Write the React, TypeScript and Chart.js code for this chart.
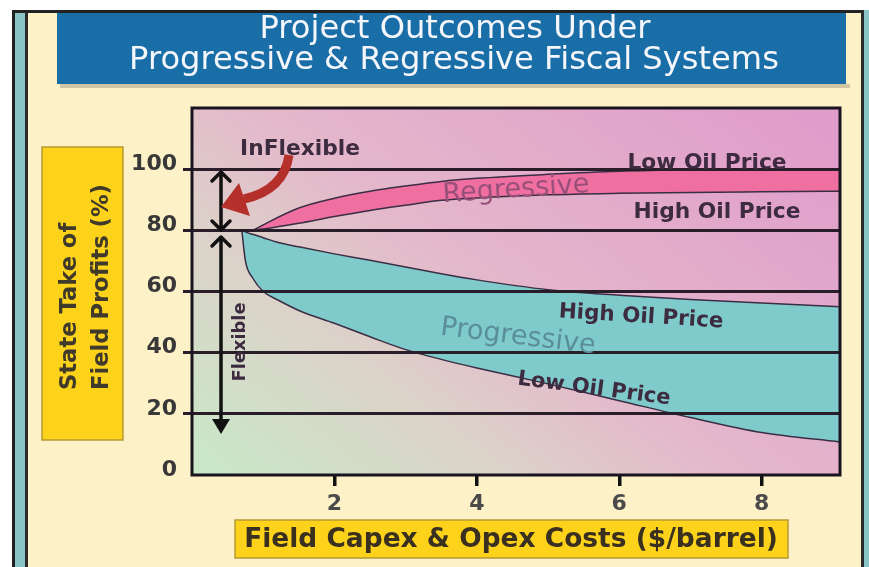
import React, { useEffect, useRef } from 'react';
import { Chart, registerables } from 'chart.js';
Chart.register(...registerables);

const FONT = '"DejaVu Sans", sans-serif';

const titleLines = ['Project Outcomes Under', 'Progressive & Regressive Fiscal Systems'];
const yTitleLines = ['State Take of', 'Field Profits (%)'];
const xTitle = 'Field Capex & Opex Costs ($/barrel)';
const xTickValues = [2, 4, 6, 8];
const yTickValues = [0, 20, 40, 60, 80, 100];

// Progressive fiscal system band
const progX = [0.7, 0.75, 0.85, 1.0, 1.2, 1.5, 2.0, 2.5, 3.0, 3.5, 4.0, 5.0, 6.0, 7.0, 8.0, 9.1];
const progHighOil = [80, 79.5, 78.7, 77.6, 76.1, 74.6, 72.3, 70.2, 68.0, 65.8, 63.8, 60.6, 58.8, 57.4, 56.2, 55.0];
const progLowOil = [80, 70, 64.5, 60.0, 57.3, 53.8, 49.6, 45.2, 41.0, 37.8, 35.0, 29.8, 24.3, 18.8, 13.9, 10.8];

// Regressive fiscal system band
const regX = [0.86, 1.0, 1.5, 2.0, 2.5, 3.0, 3.5, 4.0, 5.0, 6.0, 7.0, 8.0, 9.1];
const regLowOil = [80, 81.8, 87.3, 90.5, 92.8, 94.5, 96.0, 97.0, 98.3, 99.3, 99.8, 100, 100];
const regHighOil = [80, 80.4, 82.3, 84.5, 86.5, 88.2, 89.8, 90.6, 91.6, 92.1, 92.4, 92.6, 92.8];

const EDGE = '#3b2e44';
const CREAM = '#fdf1c8';
const BANNER = '#1a6ea8';
const STRIPE = '#8ac4c6';

function fitText(ctx: CanvasRenderingContext2D, text: string, weight: string, targetW: number, maxSize = 60) {
  ctx.font = `${weight} 100px ${FONT}`;
  const w = ctx.measureText(text).width;
  const size = Math.min(maxSize, (100 * targetW) / w);
  ctx.font = `${weight} ${size}px ${FONT}`;
  return size;
}

function drawLabel(ctx: CanvasRenderingContext2D, text: string, cx: number, cy: number, w: number, weight: string, color: string, angleDeg = 0, align: CanvasTextAlign = 'center') {
  ctx.save();
  ctx.translate(cx, cy);
  ctx.rotate((angleDeg * Math.PI) / 180);
  fitText(ctx, text, weight, w);
  ctx.fillStyle = color;
  ctx.textAlign = align;
  ctx.textBaseline = 'middle';
  ctx.fillText(text, 0, 0);
  ctx.restore();
}

export default function App() {
  const ref = useRef<HTMLCanvasElement>(null);

  useEffect(() => {
    document.body.style.margin = '0';
    const canvas = ref.current!;

    const decor = {
      id: 'decor',
      beforeDraw(chart: any) {
        const { ctx, chartArea: a } = chart;
        ctx.save();
        ctx.fillStyle = '#ffffff';
        ctx.fillRect(0, 0, 869, 567);
        ctx.fillStyle = CREAM;
        ctx.fillRect(12, 10, 852, 557);
        ctx.fillStyle = '#222';
        ctx.fillRect(12, 10, 852, 3);
        ctx.fillRect(12, 10, 3, 557);
        ctx.fillStyle = STRIPE;
        ctx.fillRect(15, 13, 10, 554);
        ctx.fillStyle = '#2a2a2a';
        ctx.fillRect(25, 13, 3, 554);
        ctx.fillRect(861, 10, 3, 557);
        ctx.fillStyle = STRIPE;
        ctx.fillRect(864, 10, 5, 557);

        // banner
        ctx.fillStyle = 'rgba(110,100,80,0.3)';
        ctx.fillRect(60, 84, 790, 4);
        ctx.fillStyle = BANNER;
        ctx.fillRect(57, 13, 789, 71);
        ctx.fillStyle = '#f4f6fa';
        ctx.textAlign = 'center';
        ctx.textBaseline = 'alphabetic';
        const s = fitText(ctx, titleLines[1], 'normal', 650);
        ctx.font = `normal ${s}px ${FONT}`;
        ctx.fillText(titleLines[0], 455, 38);
        ctx.fillText(titleLines[1], 454, 69);

        // y title box
        ctx.fillStyle = '#fdd21a';
        ctx.fillRect(42, 147, 81, 293);
        ctx.strokeStyle = '#b59a35';
        ctx.lineWidth = 1.5;
        ctx.strokeRect(42, 147, 81, 293);
        ctx.save();
        const ys = fitText(ctx, yTitleLines[1], 'bold', 206);
        ctx.fillStyle = '#3f3a2a';
        ctx.textAlign = 'left';
        ctx.textBaseline = 'middle';
        ctx.translate(0, 0);
        ctx.save();
        ctx.translate(70, 390);
        ctx.rotate(-Math.PI / 2);
        ctx.font = `bold ${ys}px ${FONT}`;
        ctx.fillText(yTitleLines[0], 0, 0);
        ctx.restore();
        ctx.save();
        ctx.translate(102, 390);
        ctx.rotate(-Math.PI / 2);
        ctx.font = `bold ${ys}px ${FONT}`;
        ctx.fillText(yTitleLines[1], 0, 0);
        ctx.restore();
        ctx.restore();

        // x title box
        ctx.fillStyle = '#fdd21a';
        ctx.fillRect(235, 520, 553, 38);
        ctx.strokeStyle = '#b59a35';
        ctx.strokeRect(235, 520, 553, 38);
        drawLabel(ctx, xTitle, 511, 540, 534, 'bold', '#3a3020');

        // plot background gradient
        const g = ctx.createLinearGradient(a.left, a.bottom, a.left + 400, a.bottom - 520);
        g.addColorStop(0, '#c8e9c8');
        g.addColorStop(0.3, '#dcd2c9');
        g.addColorStop(0.5, '#e4b8cb');
        g.addColorStop(1, '#e09dcb');
        ctx.fillStyle = g;
        ctx.fillRect(a.left, a.top, a.right - a.left, a.bottom - a.top);
        ctx.restore();
      },
      afterDraw(chart: any) {
        const { ctx, chartArea: a } = chart;
        ctx.save();
        ctx.strokeStyle = '#1a1420';
        ctx.lineWidth = 3;
        ctx.strokeRect(a.left, a.top, a.right - a.left, a.bottom - a.top);

        // black double arrows
        ctx.strokeStyle = '#111';
        ctx.fillStyle = '#111';
        ctx.lineWidth = 3.5;
        ctx.lineCap = 'round';
        ctx.lineJoin = 'round';
        const ax = 221;
        ctx.beginPath();
        ctx.moveTo(ax, 172); ctx.lineTo(ax, 230);
        ctx.moveTo(ax - 9, 181); ctx.lineTo(ax, 172); ctx.lineTo(ax + 9, 181);
        ctx.moveTo(ax - 9, 221); ctx.lineTo(ax, 230); ctx.lineTo(ax + 9, 221);
        ctx.moveTo(ax, 237); ctx.lineTo(ax, 425);
        ctx.moveTo(ax - 9, 246); ctx.lineTo(ax, 237); ctx.lineTo(ax + 9, 246);
        ctx.stroke();
        ctx.beginPath();
        ctx.moveTo(ax, 434); ctx.lineTo(ax - 9, 419); ctx.lineTo(ax + 9, 419); ctx.closePath();
        ctx.fill();

        // red curved arrow
        ctx.strokeStyle = '#b5302a';
        ctx.fillStyle = '#b5302a';
        ctx.lineWidth = 9;
        ctx.lineCap = 'butt';
        ctx.beginPath();
        ctx.moveTo(289, 155);
        ctx.quadraticCurveTo(284, 190, 244, 199);
        ctx.stroke();
        ctx.beginPath();
        ctx.moveTo(221, 207);
        ctx.lineTo(239, 183);
        ctx.lineTo(250, 216);
        ctx.closePath();
        ctx.fill();

        // annotations
        const dark = '#3d2b3f';
        drawLabel(ctx, 'InFlexible', 300, 149, 120, 'bold', dark);
        drawLabel(ctx, 'Flexible', 240, 342, 79, 'bold', dark, -90);
        drawLabel(ctx, 'Regressive', 516, 190, 147, 'normal', '#98507a', -4);
        drawLabel(ctx, 'Low Oil Price', 707, 163, 159, 'bold', dark);
        drawLabel(ctx, 'High Oil Price', 717, 212, 167, 'bold', dark);
        drawLabel(ctx, 'High Oil Price', 641, 317, 165, 'bold', dark, 3.5);
        drawLabel(ctx, 'Progressive', 518, 337, 156, 'normal', '#5a8e98', 7);
        drawLabel(ctx, 'Low Oil Price', 594, 389, 154, 'bold', dark, 7.5);
        ctx.restore();
      },
    };

    const mk = (xs: number[], ys: number[]) => xs.map((x, i) => ({ x, y: ys[i] }));
    const base = {
      borderColor: EDGE,
      borderWidth: 1.5,
      pointRadius: 0,
      cubicInterpolationMode: 'monotone' as const,
    };

    const chart = new Chart(canvas, {
      type: 'line',
      data: {
        datasets: [
          { ...base, label: 'Progressive - High Oil Price', data: mk(progX, progHighOil), fill: false },
          { ...base, label: 'Progressive - Low Oil Price', data: mk(progX, progLowOil), fill: '-1', backgroundColor: '#7fcbcc' },
          { ...base, label: 'Regressive - Low Oil Price', data: mk(regX, regLowOil), fill: false },
          { ...base, label: 'Regressive - High Oil Price', data: mk(regX, regHighOil), fill: '-1', backgroundColor: '#ef6fa0' },
        ],
      },
      options: {
        responsive: false,
        animation: false,
        devicePixelRatio: 1,
        layout: { padding: { top: 108, right: 29, bottom: 0, left: 0 } },
        plugins: { legend: { display: false }, tooltip: { enabled: false } },
        scales: {
          x: {
            type: 'linear',
            min: 0,
            max: 9.1,
            afterBuildTicks: (s: any) => { s.ticks = xTickValues.map((v) => ({ value: v })); },
            afterFit: (s: any) => { s.height = 92; },
            grid: { drawOnChartArea: false, drawTicks: true, tickLength: 11, lineWidth: 3.5, color: '#111' },
            border: { display: false },
            ticks: { font: { family: FONT, size: 22, weight: 'bold' }, color: '#4a4a4a', padding: 5 },
          },
          y: {
            min: 0,
            max: 120,
            afterBuildTicks: (s: any) => { s.ticks = yTickValues.map((v) => ({ value: v })); },
            afterFit: (s: any) => { s.width = 192; },
            grid: {
              z: 1,
              color: (c: any) => (c.tick && c.tick.value === 0 ? 'rgba(0,0,0,0)' : '#2a1d2a'),
              lineWidth: 3,
              tickLength: 9,
              drawTicks: true,
            },
            border: { display: false },
            ticks: { font: { family: FONT, size: 22, weight: 'bold' }, color: '#383838', padding: 6, labelOffset: -5 },
          },
        },
      },
      plugins: [decor],
    } as any);

    return () => chart.destroy();
  }, []);

  return (
    <div style={{ position: 'absolute', left: 0, top: 0, width: 869, height: 567 }}>
      <canvas ref={ref} width={869} height={567} style={{ display: 'block' }} />
    </div>
  );
}
